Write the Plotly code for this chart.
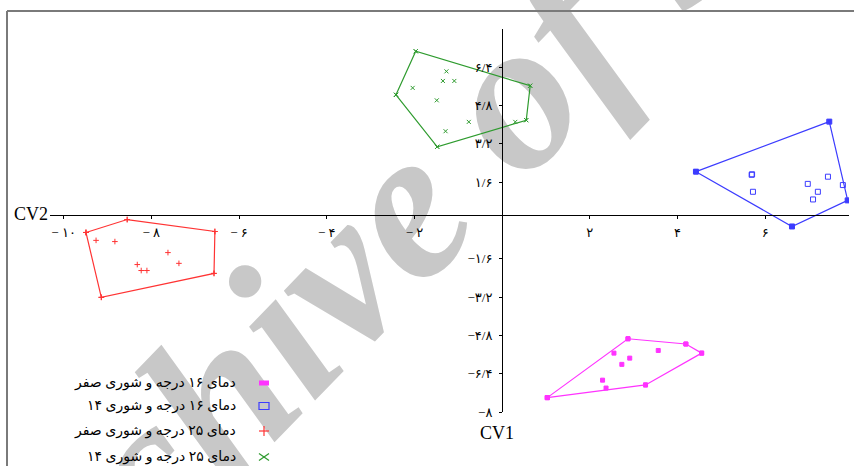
import plotly.graph_objects as go

# ---------------- data ----------------
groups = ["دمای ۱۶ درجه و شوری صفر", "دمای ۱۶ درجه و شوری ۱۴",
          "دمای ۲۵ درجه و شوری صفر", "دمای ۲۵ درجه و شوری ۱۴"]

# 16 C, salinity 0 (magenta)
g1_x = [2.87, 4.19, 4.55, 3.27, 1.03, 2.55, 3.56, 2.91, 2.73, 2.29, 2.37]
g1_y = [-4.94, -5.16, -5.54, -6.87, -7.40, -5.54, -5.43, -5.75, -6.01, -6.67, -7.00]
# 16 C, salinity 14 (blue)
g2_x = [4.42, 7.46, 7.88, 6.61, 5.69, 5.70, 5.72, 6.97, 7.43, 7.20, 7.09, 7.77]
g2_y = [2.04, 4.13, 0.84, -0.25, 1.91, 1.93, 1.20, 1.53, 1.83, 1.20, 0.88, 1.48]
# 25 C, salinity 0 (red)
g3_x = [-9.49, -8.55, -6.55, -6.57, -9.14, -9.26, -8.83, -7.62, -7.37, -8.32, -8.23, -8.10]
g3_y = [-0.50, 0.04, -0.46, -2.21, -3.21, -0.83, -0.88, -1.34, -1.79, -1.84, -2.09, -2.09]
# 25 C, salinity 14 (green)
g4_x = [-1.97, 0.64, 0.55, -1.48, -2.42, -1.27, -1.35, -1.09, -2.04, -1.49, -0.76, -1.29, 0.30]
g4_y = [7.07, 5.63, 4.19, 3.08, 5.25, 6.23, 5.83, 5.83, 5.54, 5.02, 4.12, 3.73, 4.12]

x_tickvals = [-10, -8, -6, -4, -2, 2, 4, 6]
x_ticktext = ["− ۱۰", "− ۸", "− ۶", "− ۴", "− ۲", "۲", "۴", "۶"]
y_tickvals = [6.4, 4.8, 3.2, 1.6, -1.6, -3.2, -4.8, -6.4, -8]
y_ticktext = ["۶/۴", "۴/۸", "۳/۲", "۱/۶", "−۱/۶", "−۳/۲", "−۴/۸", "−۶/۴", "−۸"]

x_label = "CV1"
y_label = "CV2"
watermark = "Archive of SID"

# ---------------- styling / layout ----------------
W, H = 854, 466
L, R, T, B = 50, 5, 29, 54
XR = [-10.31, 7.91]
YR = [-8, 8]
X_AXIS_AT = 0.25   # horizontal axis line drawn slightly above zero as in the original

pw, ph = W - L - R, H - T - B


def px(x):
    return (x - L) / pw


def py(y):
    return 1 - (y - T) / ph


colors = ["#ff33ff", "#3c3cff", "#ff3333", "#2e9b2e"]
point_sym = ["square", "square-open", "cross-thin", "x-thin"]
vert_sym = ["square", "square", "cross-thin", "x-thin"]
series = [(g1_x, g1_y), (g2_x, g2_y), (g3_x, g3_y), (g4_x, g4_y)]


def hull(xs, ys):
    pts = sorted(set(zip(xs, ys)))
    if len(pts) < 3:
        return pts

    def cross(o, a, b):
        return (a[0] - o[0]) * (b[1] - o[1]) - (a[1] - o[1]) * (b[0] - o[0])

    lower, upper = [], []
    for p in pts:
        while len(lower) >= 2 and cross(lower[-2], lower[-1], p) <= 0:
            lower.pop()
        lower.append(p)
    for p in reversed(pts):
        while len(upper) >= 2 and cross(upper[-2], upper[-1], p) <= 0:
            upper.pop()
        upper.append(p)
    return lower[:-1] + upper[:-1]


fig = go.Figure()
for i, (xs, ys) in enumerate(series):
    c = colors[i]
    hp = hull(xs, ys)
    hp = hp + [hp[0]]
    fig.add_trace(go.Scatter(
        x=[p[0] for p in hp], y=[p[1] for p in hp], mode="lines+markers",
        line=dict(color=c, width=1.2),
        marker=dict(symbol=vert_sym[i], size=4, color=c, line=dict(color=c, width=1)),
        showlegend=False, hoverinfo="skip"))
    fig.add_trace(go.Scatter(
        x=xs, y=ys, mode="markers", name=groups[i],
        marker=dict(symbol=point_sym[i], size=4 if i != 1 else 5, color=c,
                    line=dict(color=c, width=1)),
        showlegend=False))

font_num = dict(family="Liberation Serif, DejaVu Sans, serif", size=13, color="black")

fig.update_xaxes(range=XR, showgrid=False, zeroline=False, showline=True,
                 linecolor="black", linewidth=1.2,
                 anchor="free", position=(X_AXIS_AT - YR[0]) / (YR[1] - YR[0]),
                 tickvals=x_tickvals, ticktext=x_ticktext, ticks="outside",
                 ticklen=3, tickwidth=1, tickcolor="black", tickfont=font_num,
                 ticklabelstandoff=3, fixedrange=True)
fig.update_yaxes(range=YR, showgrid=False, zeroline=False, showline=True,
                 linecolor="black", linewidth=1.2,
                 anchor="free", position=(0 - XR[0]) / (XR[1] - XR[0]),
                 tickvals=y_tickvals, ticktext=y_ticktext, ticks="outside",
                 ticklen=3, tickwidth=1, tickcolor="black", tickfont=font_num,
                 ticklabelstandoff=4, fixedrange=True)

shapes = []
# watermark (under everything)
wx, wy = 400, 175
shapes.append(dict(type="rect", xref="paper", yref="paper", layer="below",
                   x0=px(wx - 5), x1=px(wx + 5), y0=py(wy + 5), y1=py(wy - 5),
                   line=dict(width=0), fillcolor="rgba(0,0,0,0)",
                   label=dict(text=watermark, textangle=-46, textposition="middle center",
                              font=dict(family="Liberation Serif", size=215, color="#c8c8c8",
                                        style="italic", weight="bold"))))
# frame lines
shapes.append(dict(type="line", xref="paper", yref="paper", layer="below",
                   x0=px(7), x1=px(860), y0=py(11), y1=py(11),
                   line=dict(color="#7a7a7a", width=2)))
shapes.append(dict(type="line", xref="paper", yref="paper", layer="below",
                   x0=px(7), x1=px(7), y0=py(11), y1=py(470),
                   line=dict(color="#7a7a7a", width=2)))

# legend symbols (drawn on the right of the texts as in the original)
lx = 264
rows = [383, 406, 431, 457]
shapes.append(dict(type="rect", xref="paper", yref="paper",
                   x0=px(lx - 5), x1=px(lx + 5), y0=py(rows[0] + 2.5), y1=py(rows[0] - 2.5),
                   line=dict(width=0), fillcolor=colors[0]))
shapes.append(dict(type="rect", xref="paper", yref="paper",
                   x0=px(lx - 5), x1=px(lx + 5), y0=py(rows[1] + 3.5), y1=py(rows[1] - 3.5),
                   line=dict(width=1.2, color=colors[1]), fillcolor="rgba(0,0,0,0)"))
shapes.append(dict(type="line", xref="paper", yref="paper",
                   x0=px(lx - 5), x1=px(lx + 5), y0=py(rows[2]), y1=py(rows[2]),
                   line=dict(width=1.2, color=colors[2])))
shapes.append(dict(type="line", xref="paper", yref="paper",
                   x0=px(lx), x1=px(lx), y0=py(rows[2] - 5), y1=py(rows[2] + 5),
                   line=dict(width=1.2, color=colors[2])))
shapes.append(dict(type="line", xref="paper", yref="paper",
                   x0=px(lx - 5), x1=px(lx + 5), y0=py(rows[3] - 3.5), y1=py(rows[3] + 3.5),
                   line=dict(width=1.2, color=colors[3])))
shapes.append(dict(type="line", xref="paper", yref="paper",
                   x0=px(lx - 5), x1=px(lx + 5), y0=py(rows[3] + 3.5), y1=py(rows[3] - 3.5),
                   line=dict(width=1.2, color=colors[3])))

annotations = []
for name, ry in zip(groups, rows):
    annotations.append(dict(text=name, xref="paper", yref="paper", x=px(238), y=py(ry),
                            xanchor="right", yanchor="middle", showarrow=False,
                            font=dict(family="Liberation Serif, DejaVu Sans, serif",
                                      size=14, color="black")))
annotations.append(dict(text=y_label, xref="paper", yref="paper", x=px(31), y=py(214),
                        xanchor="center", yanchor="middle", showarrow=False,
                        font=dict(family="Liberation Serif, serif", size=18, color="black")))
annotations.append(dict(text=x_label, xref="paper", yref="paper", x=px(497), y=py(433),
                        xanchor="center", yanchor="middle", showarrow=False,
                        font=dict(family="Liberation Serif, serif", size=18, color="black")))

fig.update_layout(width=W, height=H, margin=dict(l=L, r=R, t=T, b=B),
                  plot_bgcolor="rgba(0,0,0,0)", paper_bgcolor="white",
                  shapes=shapes, annotations=annotations, showlegend=False)

fig.write_html("out.html")
